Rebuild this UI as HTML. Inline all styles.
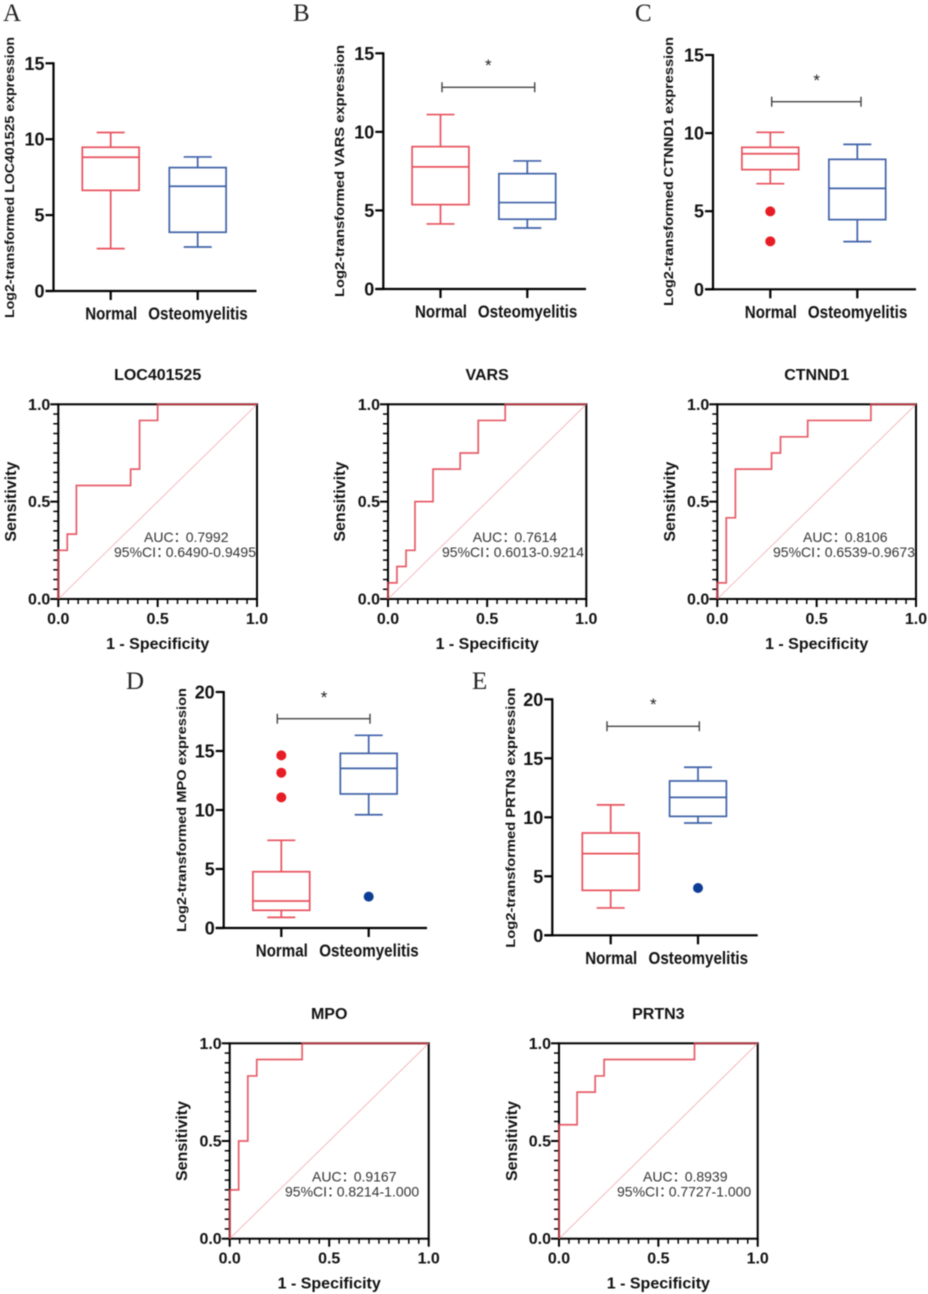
<!DOCTYPE html>
<html lang="en">
<head>
<meta charset="utf-8">
<title>Gene expression box plots and ROC curves</title>
<style>
html,body{margin:0;padding:0;background:#fff;width:928px;height:1294px;overflow:hidden}
svg{display:block;filter:blur(0.45px)}
text{font-family:"Liberation Sans","Noto Sans CJK SC",sans-serif}
.letter{font-family:"Liberation Serif","Noto Serif CJK SC",serif;font-size:25px;fill:#222}
</style>
</head>
<body>
<svg id="figure" xmlns="http://www.w3.org/2000/svg" width="928" height="1294" viewBox="0 0 928 1294">
<rect width="928" height="1294" fill="#fff"/>
<text class="letter" x="3" y="21">A</text>
<text class="letter" x="293" y="21">B</text>
<text class="letter" x="635" y="21">C</text>
<text class="letter" x="126" y="689">D</text>
<text class="letter" x="472" y="689">E</text>
</svg>
<script>
// ---- category and tick data ----
const boxCategories = ['Normal', 'Osteomyelitis'];
const boxTicks15 = [0, 5, 10, 15];
const boxTicks20 = [0, 5, 10, 15, 20];
const rocMajorTicks = [0, 0.5, 1];
const rocMinorTicks = [0.05,0.1,0.15,0.2,0.25,0.3,0.35,0.4,0.45,0.55,0.6,0.65,0.7,0.75,0.8,0.85,0.9,0.95];

// ---- box plot data: [min, q1, median, q3, max] ----
const locNormal = [2.79, 6.63, 8.81, 9.47, 10.44];
const locOsteo = [2.9, 3.87, 6.9, 8.13, 8.83];
const varsNormal = [4.14, 5.37, 7.77, 9.06, 11.1];
const varsOsteo = [3.88, 4.44, 5.5, 7.34, 8.15];
const ctnnd1Normal = [6.76, 7.66, 8.68, 9.09, 10.05];
const ctnnd1Osteo = [3.05, 4.46, 6.46, 8.32, 9.28];
const mpoNormal = [0.9, 1.5, 2.29, 4.77, 7.43];
const mpoOsteo = [9.6, 11.36, 13.53, 14.8, 16.33];
const prtn3Normal = [2.32, 3.81, 6.92, 8.67, 11.05];
const prtn3Osteo = [9.52, 10.08, 11.69, 13.08, 14.24];

// ---- outliers ----
const noOutliers = [];
const ctnnd1NormalOutliers = [4.99, 3.07];
const mpoNormalOutliers = [14.63, 13.16, 11.07];
const mpoOsteoOutliers = [2.66];
const prtn3OsteoOutliers = [4.01];

// ---- ROC data ----
const locFpr = [0,0,0.045,0.045,0.091,0.091,0.364,0.364,0.409,0.409,0.5,0.5,1];
const locTpr = [0,0.25,0.25,0.333,0.333,0.583,0.583,0.667,0.667,0.917,0.917,1,1];
const varsFpr = [0,0,0.045,0.045,0.091,0.091,0.136,0.136,0.227,0.227,0.364,0.364,0.455,0.455,0.591,0.591,1];
const varsTpr = [0,0.083,0.083,0.167,0.167,0.25,0.25,0.5,0.5,0.667,0.667,0.75,0.75,0.917,0.917,1,1];
const ctnnd1Fpr = [0,0,0.045,0.045,0.091,0.091,0.273,0.273,0.318,0.318,0.455,0.455,0.773,0.773,1];
const ctnnd1Tpr = [0,0.083,0.083,0.417,0.417,0.667,0.667,0.75,0.75,0.833,0.833,0.917,0.917,1,1];
const mpoFpr = [0,0,0.045,0.045,0.091,0.091,0.136,0.136,0.364,0.364,1];
const mpoTpr = [0,0.25,0.25,0.5,0.5,0.833,0.833,0.917,0.917,1,1];
const prtn3Fpr = [0,0,0.091,0.091,0.182,0.182,0.227,0.227,0.682,0.682,1];
const prtn3Tpr = [0,0.583,0.583,0.75,0.75,0.833,0.833,0.917,0.917,1,1];

const SVG_NS = 'http://www.w3.org/2000/svg';
const root = document.getElementById('figure');
const RED = '#e8525e';
const BLUE = '#3f62a8';
const RED_DOT = '#e81c24';
const BLUE_DOT = '#0c3c94';

function add(parent, tag, props, content) {
  const node = document.createElementNS(SVG_NS, tag);
  for (const k in props) node.setAttribute(k, props[k]);
  if (content !== undefined) node.textContent = content;
  parent.appendChild(node);
  return node;
}

function drawBoxGroup(g, slug, value, cx, vals, outliers, color, dotColor) {
  const hw = 28.4, cap = 14;
  const [mn, q1, med, q3, mx] = vals;
  const group = add(g, 'g', {stroke: color, 'stroke-width': 1.7, fill: 'none'});
  
  
  const upper = add(group, 'line', {x1: cx, x2: cx, y1: value(q3), y2: value(mx)});
  
  
  const lower = add(group, 'line', {x1: cx, x2: cx, y1: value(q1), y2: value(mn)});
  
  
  const capTop = add(group, 'line', {x1: cx - cap, x2: cx + cap, y1: value(mx), y2: value(mx)});
  
  
  const capBottom = add(group, 'line', {x1: cx - cap, x2: cx + cap, y1: value(mn), y2: value(mn)});
  
  
  const box = add(group, 'rect', {x: cx - hw, y: value(q3), width: hw * 2, height: value(q1) - value(q3)});
  
  
  const median = add(group, 'line', {x1: cx - hw, x2: cx + hw, y1: value(med), y2: value(med)});
  
  
  outliers.forEach(function (v) {
    const dot = add(g, 'circle', {cx: cx, cy: value(v), r: 5, fill: dotColor});
    
    
  });
}

function drawBoxPanel(p) {
  const g = add(root, 'g', {});
  
  
  const max = p.ticks[p.ticks.length - 1];
  const value = function (v) { return p.y0 - v * (p.y0 - p.yTop) / max; };

  const yAxis = add(g, 'line', {x1: p.axisX, x2: p.axisX, y1: value(max) - 1, y2: p.y0 + 1, stroke: '#000', 'stroke-width': 2.2});
  
  
  const xAxis = add(g, 'line', {x1: p.axisX - 8, x2: p.xEnd, y1: p.y0, y2: p.y0, stroke: '#000', 'stroke-width': 2.2});
  
  

  p.ticks.forEach(function (t) {
    const tick = add(g, 'line', {x1: p.axisX - 8, x2: p.axisX, y1: value(t), y2: value(t), stroke: '#000', 'stroke-width': 2.2});
    
    
    const label = add(g, 'text', {x: p.axisX - 9, y: value(t) + 6.5, 'text-anchor': 'end', 'font-size': 18, 'font-weight': 700, fill: '#111', textLength: String(t).length * 10, lengthAdjust: 'spacingAndGlyphs'}, String(t));
    
    
  });

  p.catX.forEach(function (cx, i) {
    const tick = add(g, 'line', {x1: cx, x2: cx, y1: p.y0, y2: p.y0 + 9, stroke: '#000', 'stroke-width': 2.2});
    
    
    const label = add(g, 'text', {x: cx + (i === 0 ? 0.5 : 0.3), y: p.y0 + 28.5, 'text-anchor': 'middle', 'font-size': 17.5, 'font-weight': 700, fill: '#111', textLength: i === 0 ? 52 : 99.5, lengthAdjust: 'spacingAndGlyphs'}, boxCategories[i]);
    
    
  });

  const cy = (p.titleTop + p.titleBottom) / 2;
  const yTitle = add(g, 'text', {x: p.titleX, y: cy, transform: 'rotate(-90 ' + p.titleX + ' ' + cy + ')', 'text-anchor': 'middle', 'font-size': 12.5, 'font-weight': 700, fill: '#111', textLength: p.titleBottom - p.titleTop, lengthAdjust: 'spacingAndGlyphs'}, p.title);
  
  

  if (p.bracket) {
    const b = p.bracket;
    const bar = add(g, 'path', {d: 'M' + b.x1 + ' ' + (b.y - 5) + 'V' + (b.y + 5) + 'M' + b.x1 + ' ' + b.y + 'H' + b.x2 + 'M' + b.x2 + ' ' + (b.y - 5) + 'V' + (b.y + 5), stroke: '#444', 'stroke-width': 1.4, fill: 'none'});
    
    
    const star = add(g, 'text', {x: b.starX, y: b.starY + 7, 'text-anchor': 'middle', 'font-size': 17, 'font-weight': 400, fill: '#222'}, '*');
    
    
  }

  drawBoxGroup(g, 'normal', value, p.catX[0], p.normal, p.normalOutliers, RED, RED_DOT);
  drawBoxGroup(g, 'osteomyelitis', value, p.catX[1], p.osteo, p.osteoOutliers, BLUE, BLUE_DOT);
}

function drawRocPanel(p) {
  const g = add(root, 'g', {});
  
  
  const sx = function (v) { return p.x0 + v * (p.x1 - p.x0); };
  const sy = function (v) { return p.y0 - v * (p.y0 - p.y1); };

  const title = add(g, 'text', {x: (p.x0 + p.x1) / 2, y: p.y1 - 24.5, 'text-anchor': 'middle', 'font-size': 16, 'font-weight': 700, fill: '#111'}, p.title);
  
  

  const frame = add(g, 'rect', {x: p.x0, y: p.y1, width: p.x1 - p.x0, height: p.y0 - p.y1, fill: 'none', stroke: '#000', 'stroke-width': 2});
  
  

  rocMinorTicks.forEach(function (t) {
    const xt = add(g, 'line', {x1: sx(t), x2: sx(t), y1: p.y0, y2: p.y0 + 5, stroke: '#000', 'stroke-width': 1.5});
    
    
    const yt = add(g, 'line', {x1: p.x0 - 5, x2: p.x0, y1: sy(t), y2: sy(t), stroke: '#000', 'stroke-width': 1.5});
    
    
  });

  rocMajorTicks.forEach(function (t) {
    const xt = add(g, 'line', {x1: sx(t), x2: sx(t), y1: p.y0, y2: p.y0 + 8, stroke: '#000', 'stroke-width': 2});
    
    
    const yt = add(g, 'line', {x1: p.x0 - 8, x2: p.x0, y1: sy(t), y2: sy(t), stroke: '#000', 'stroke-width': 2});
    
    
    const xl = add(g, 'text', {x: sx(t), y: p.y0 + 25, 'text-anchor': 'middle', 'font-size': 16, 'font-weight': 700, fill: '#111'}, t.toFixed(1));
    
    
    const yl = add(g, 'text', {x: p.x0 - 8, y: sy(t) + 5.5, 'text-anchor': 'end', 'font-size': 16, 'font-weight': 700, fill: '#111'}, t.toFixed(1));
    
    
  });

  const diag = add(g, 'line', {x1: sx(0), y1: sy(0), x2: sx(1), y2: sy(1), stroke: '#f4aab0', 'stroke-width': 0.8});
  
  

  const d = p.fpr.map(function (f, i) { return (i ? 'L' : 'M') + sx(f).toFixed(2) + ' ' + sy(p.tpr[i]).toFixed(2); }).join('');
  const curve = add(g, 'path', {d: d, fill: 'none', stroke: '#e2404e', 'stroke-opacity': 0.85, 'stroke-width': 1.7});
  
  

  const midY = (p.y0 + p.y1) / 2;
  const yTitle = add(g, 'text', {x: p.sensX, y: midY, transform: 'rotate(-90 ' + p.sensX + ' ' + midY + ')', 'text-anchor': 'middle', 'font-size': 16, 'font-weight': 700, fill: '#111'}, 'Sensitivity');
  
  
  const xTitle = add(g, 'text', {x: (p.x0 + p.x1) / 2, y: p.y0 + 50, 'text-anchor': 'middle', 'font-size': 16, 'font-weight': 700, fill: '#111'}, '1 - Specificity');
  
  

  const auc = add(g, 'text', {y: p.y0 - 57, 'font-size': 14, fill: '#333'});
  
  
  add(auc, 'tspan', {x: p.aucX}, 'AUC：');
  add(auc, 'tspan', {x: p.aucX + 41.7}, p.auc);
  const ci = add(g, 'text', {y: p.y0 - 42, 'font-size': 14, fill: '#333'});
  
  
  add(ci, 'tspan', {x: p.ciX}, '95%CI：');
  add(ci, 'tspan', {x: p.ciX + 51.7}, p.ci);
}

drawBoxPanel({slug: 'loc401525', title: 'Log2-transformed LOC401525 expression', axisX: 53.5, xEnd: 256.5, y0: 291, yTop: 63.3, ticks: boxTicks15, catX: [110.7, 197.7], titleX: 14, titleTop: 37, titleBottom: 318, normal: locNormal, osteo: locOsteo, normalOutliers: noOutliers, osteoOutliers: noOutliers});
drawBoxPanel({slug: 'vars', title: 'Log2-transformed VARS expression', axisX: 383.3, xEnd: 586, y0: 289, yTop: 53.3, ticks: boxTicks15, catX: [440.5, 527.3], titleX: 344, titleTop: 45, titleBottom: 297, normal: varsNormal, osteo: varsOsteo, normalOutliers: noOutliers, osteoOutliers: noOutliers, bracket: {x1: 442, x2: 534.7, y: 87.3, starX: 488.3, starY: 64}});
drawBoxPanel({slug: 'ctnnd1', title: 'Log2-transformed CTNND1 expression', axisX: 713, xEnd: 916, y0: 289.3, yTop: 55, ticks: boxTicks15, catX: [770.3, 857.3], titleX: 673, titleTop: 37, titleBottom: 306, normal: ctnnd1Normal, osteo: ctnnd1Osteo, normalOutliers: ctnnd1NormalOutliers, osteoOutliers: noOutliers, bracket: {x1: 771.7, x2: 861, y: 101.7, starX: 816.7, starY: 79}});
drawBoxPanel({slug: 'mpo', title: 'Log2-transformed MPO expression', axisX: 223.7, xEnd: 427, y0: 928, yTop: 692, ticks: boxTicks20, catX: [281.3, 368.7], titleX: 186, titleTop: 688, titleBottom: 932, normal: mpoNormal, osteo: mpoOsteo, normalOutliers: mpoNormalOutliers, osteoOutliers: mpoOsteoOutliers, bracket: {x1: 277.3, x2: 370, y: 718.7, starX: 324, starY: 696}});
drawBoxPanel({slug: 'prtn3', title: 'Log2-transformed PRTN3 expression', axisX: 552.3, xEnd: 757.7, y0: 935.3, yTop: 699.3, ticks: boxTicks20, catX: [610.7, 698], titleX: 515, titleTop: 687.7, titleBottom: 947.7, normal: prtn3Normal, osteo: prtn3Osteo, normalOutliers: noOutliers, osteoOutliers: prtn3OsteoOutliers, bracket: {x1: 607, x2: 699.3, y: 726.3, starX: 653.3, starY: 703}});

drawRocPanel({slug: 'loc401525', title: 'LOC401525', x0: 58.3, x1: 257, y0: 599, y1: 404.3, sensX: 16, fpr: locFpr, tpr: locTpr, auc: '0.7992', ci: '0.6490-0.9495', aucX: 144, ciX: 114});
drawRocPanel({slug: 'vars', title: 'VARS', x0: 388, x1: 586.3, y0: 599, y1: 404.3, sensX: 345, fpr: varsFpr, tpr: varsTpr, auc: '0.7614', ci: '0.6013-0.9214', aucX: 472.7, ciX: 442});
drawRocPanel({slug: 'ctnnd1', title: 'CTNND1', x0: 717.3, x1: 916, y0: 599, y1: 404.3, sensX: 675, fpr: ctnnd1Fpr, tpr: ctnnd1Tpr, auc: '0.8106', ci: '0.6539-0.9673', aucX: 803, ciX: 773});
drawRocPanel({slug: 'mpo', title: 'MPO', x0: 229.7, x1: 428.7, y0: 1238.7, y1: 1043.3, sensX: 187, fpr: mpoFpr, tpr: mpoTpr, auc: '0.9167', ci: '0.8214-1.000', aucX: 312, ciX: 285});
drawRocPanel({slug: 'prtn3', title: 'PRTN3', x0: 559, x1: 757.7, y0: 1238.7, y1: 1043.3, sensX: 517, fpr: prtn3Fpr, tpr: prtn3Tpr, auc: '0.8939', ci: '0.7727-1.000', aucX: 643, ciX: 617});
</script>
</body>
</html>
